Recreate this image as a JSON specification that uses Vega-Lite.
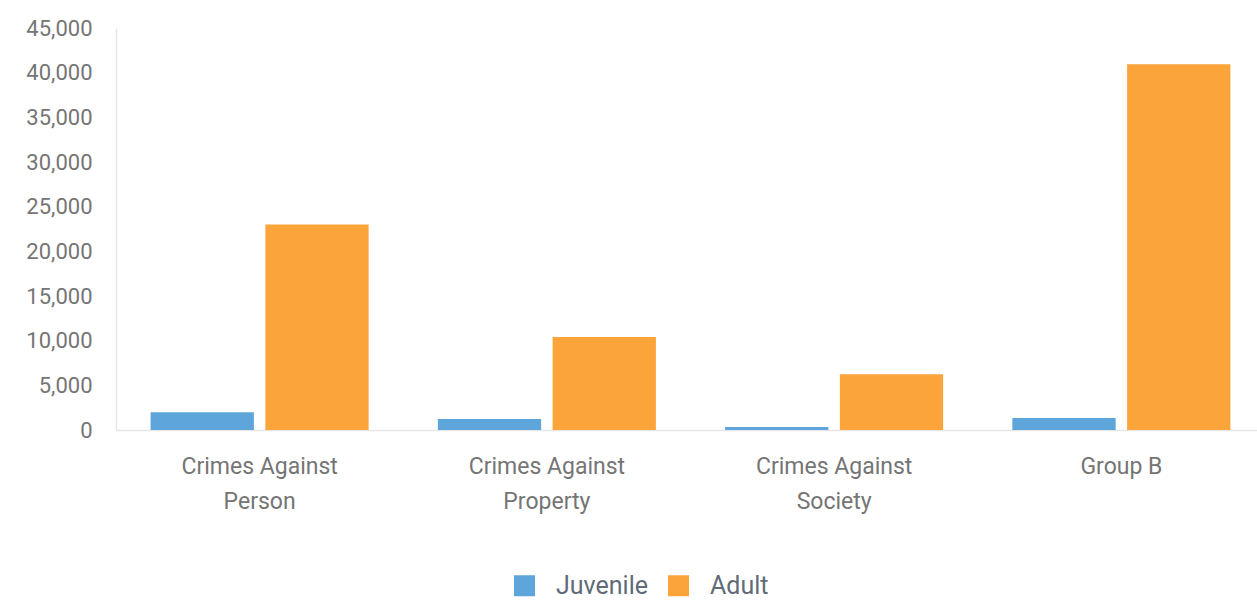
{
  "$schema": "https://vega.github.io/schema/vega-lite/v6.json",
  "width": 1149,
  "height": 402,
  "autosize": {"type": "none"},
  "padding": {"left": 116, "top": 28, "right": 0, "bottom": 172},
  "background": "white",
  "config": {
    "view": {"stroke": null},
    "font": "Roboto"
  },
  "data": {
    "values": [
      {"category": "Crimes Against|Person", "group": "Juvenile", "value": 2000},
      {"category": "Crimes Against|Person", "group": "Adult", "value": 23000},
      {"category": "Crimes Against|Property", "group": "Juvenile", "value": 1230},
      {"category": "Crimes Against|Property", "group": "Adult", "value": 10400},
      {"category": "Crimes Against|Society", "group": "Juvenile", "value": 340},
      {"category": "Crimes Against|Society", "group": "Adult", "value": 6250},
      {"category": "Group B", "group": "Juvenile", "value": 1340},
      {"category": "Group B", "group": "Adult", "value": 40950}
    ]
  },
  "mark": {"type": "bar"},
  "encoding": {
    "x": {
      "field": "category",
      "type": "nominal",
      "sort": null,
      "scale": {"paddingInner": 0.241, "paddingOuter": 0.1205},
      "axis": {
        "title": null,
        "labelAngle": 0,
        "labelExpr": "split(datum.label, '|')",
        "labelFont": "Roboto",
        "labelFontSize": 23,
        "labelColor": "#757575",
        "labelLineHeight": 35,
        "labelPadding": 25,
        "ticks": false,
        "domainColor": "#e6e6e6",
        "domainWidth": 1.5,
        "grid": false
      }
    },
    "xOffset": {
      "field": "group",
      "type": "nominal",
      "sort": ["Juvenile", "Adult"],
      "scale": {"paddingInner": 0.1, "paddingOuter": 0}
    },
    "y": {
      "field": "value",
      "type": "quantitative",
      "scale": {"domain": [0, 45000], "nice": false},
      "axis": {
        "title": null,
        "values": [0, 5000, 10000, 15000, 20000, 25000, 30000, 35000, 40000, 45000],
        "format": ",.0f",
        "labelFont": "Roboto",
        "labelFontSize": 22,
        "labelColor": "#757575",
        "labelPadding": 24,
        "ticks": false,
        "domainColor": "#e6e6e6",
        "domainWidth": 1.5,
        "grid": false
      }
    },
    "color": {
      "field": "group",
      "type": "nominal",
      "sort": ["Juvenile", "Adult"],
      "scale": {"domain": ["Juvenile", "Adult"], "range": ["#5DA5DA", "#FAA43A"]},
      "legend": {
        "title": null,
        "orient": "none",
        "direction": "horizontal",
        "legendX": 396,
        "legendY": 545,
        "symbolType": "square",
        "symbolSize": 441,
        "symbolStrokeWidth": 0,
        "labelFont": "Roboto",
        "labelFontSize": 25,
        "labelColor": "#5f6b77",
        "labelOffset": 19,
        "columnPadding": 17
      }
    }
  }
}
